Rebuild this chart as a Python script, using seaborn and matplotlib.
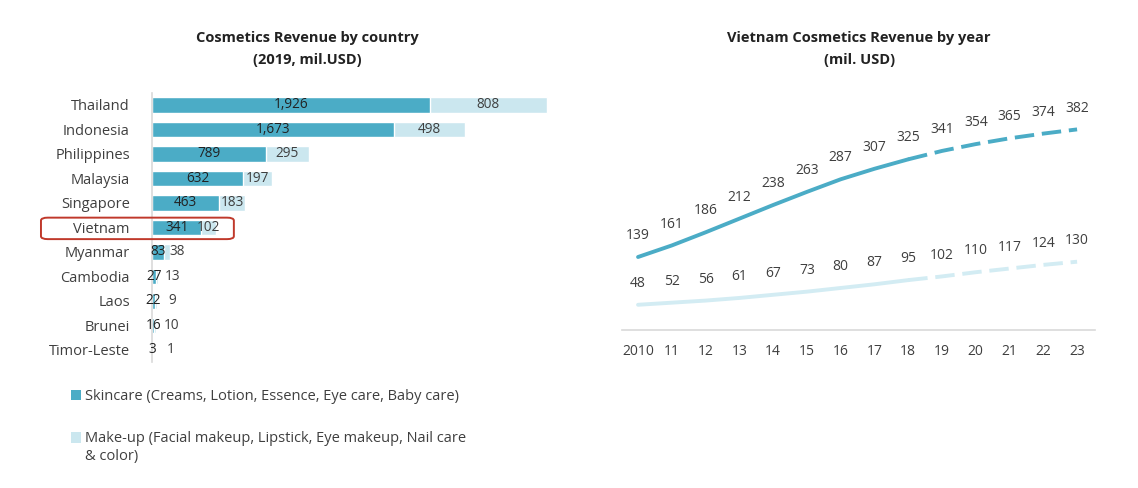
import numpy as np
import pandas as pd
import matplotlib
matplotlib.use("Agg")
import matplotlib.pyplot as plt
import seaborn as sns
from matplotlib.patches import FancyBboxPatch, Patch

sns.set_style("white")
plt.rcParams["font.family"] = ["Open Sans", "DejaVu Sans"]

# data
countries = ["Thailand", "Indonesia", "Philippines", "Malaysia", "Singapore", "Vietnam",
             "Myanmar", "Cambodia", "Laos", "Brunei", "Timor-Leste"]
skincare = [1926, 1673, 789, 632, 463, 341, 83, 27, 22, 16, 3]
makeup = [808, 498, 295, 197, 183, 102, 38, 13, 9, 10, 1]

years = ["2010", "11", "12", "13", "14", "15", "16", "17", "18", "19", "20", "21", "22", "23"]
vn_skincare = [139, 161, 186, 212, 238, 263, 287, 307, 325, 341, 354, 365, 374, 382]
vn_makeup = [48, 52, 56, 61, 67, 73, 80, 87, 95, 102, 110, 117, 124, 130]
last_actual = "18"

DARK = "#4BACC6"
LIGHT = "#CBE7EF"
LIGHT_LINE = "#D3ECF3"
TXT = "#3F3F3F"

df = pd.DataFrame({"country": countries, "skincare": skincare, "makeup": makeup})
df["total"] = df["skincare"] + df["makeup"]

fig = plt.figure(figsize=(11.38, 4.88), dpi=100)

# ---- left: stacked bars
ax1 = fig.add_axes([0.1336, 0.2577, 0.3585, 0.5523])
sns.barplot(data=df, y="country", x="total", color=LIGHT, width=0.62,
            saturation=1, orient="h", ax=ax1)
sns.barplot(data=df, y="country", x="skincare", color=DARK, width=0.62,
            saturation=1, orient="h", ax=ax1)
ax1.set_xlim(0, 2826)
ax1.set_ylim(10.5, -0.5)
ax1.set_xlabel("")
ax1.set_ylabel("")
ax1.set_xticks([])
for s in ["top", "right", "bottom"]:
    ax1.spines[s].set_visible(False)
ax1.spines["left"].set_color("#D9D9D9")
ax1.spines["left"].set_linewidth(1.2)
ax1.tick_params(axis="y", length=0, pad=16, labelsize=10.5, labelcolor=TXT)

for i, (sk, mk) in enumerate(zip(skincare, makeup)):
    ax1.text(sk / 2, i, f"{sk:,}", ha="center", va="center", fontsize=9.8, color="#222222")
    mx = max(sk + mk / 2, sk / 2 + 130)
    ax1.text(mx, i, f"{mk:,}", ha="center", va="center", fontsize=9.8, color=TXT)

fig.text(0.270, 0.922, "Cosmetics Revenue by country", ha="center", va="center",
         fontsize=10.5, fontweight="bold", color="#222222")
fig.text(0.270, 0.878, "(2019, mil.USD)", ha="center", va="center",
         fontsize=10.5, fontweight="bold", color="#222222")

# highlight Vietnam
fig.patches.append(FancyBboxPatch((0.0360, 0.5100), 0.1695, 0.0440,
                                  boxstyle="round,pad=0,rounding_size=0.006",
                                  transform=fig.transFigure, fill=False,
                                  edgecolor="#C0392B", linewidth=1.4))

handles = [Patch(facecolor=DARK, edgecolor="none",
                 label="Skincare (Creams, Lotion, Essence, Eye care, Baby care)"),
           Patch(facecolor=LIGHT, edgecolor="none",
                 label="Make-up (Facial makeup, Lipstick, Eye makeup, Nail care\n& color)")]
leg = fig.legend(handles=handles, loc="upper left", bbox_to_anchor=(0.057, 0.214),
                 frameon=False, fontsize=10.5, handlelength=0.7, handleheight=0.7,
                 handletextpad=0.3, labelspacing=1.85, borderaxespad=0)
for t in leg.get_texts():
    t.set_color(TXT)
# put the second square level with the first line of its label
h2 = leg.legend_handles[1]
h2.set_y(h2.get_y() + 7.5)

# ---- right: lines
ax2 = fig.add_axes([0.5466, 0.3238, 0.4156, 0.4713])
cut = years.index(last_actual)
x = np.arange(len(years))
lines = pd.DataFrame({"x": x, "skin": vn_skincare, "make": vn_makeup})
sol = lines.iloc[:cut + 1]
das = lines.iloc[cut:]
dash = (0, (5, 2))
sns.lineplot(data=sol, x="x", y="skin", color=DARK, linewidth=2.8, ax=ax2)
sns.lineplot(data=das, x="x", y="skin", color=DARK, linewidth=2.8, ax=ax2, linestyle=dash)
sns.lineplot(data=sol, x="x", y="make", color=LIGHT_LINE, linewidth=2.8, ax=ax2)
sns.lineplot(data=das, x="x", y="make", color=LIGHT_LINE, linewidth=2.8, ax=ax2, linestyle=dash)
for i in x:
    ax2.annotate(f"{vn_skincare[i]}", (i, vn_skincare[i]), xytext=(0, 10),
                 textcoords="offset points", ha="center", va="bottom",
                 fontsize=10, color=TXT)
    ax2.annotate(f"{vn_makeup[i]}", (i, vn_makeup[i]), xytext=(0, 10),
                 textcoords="offset points", ha="center", va="bottom",
                 fontsize=10, color=TXT)
ax2.set_xlim(-0.474, 13.53)
ax2.set_ylim(0, 438)
ax2.set_xticks(x)
ax2.set_xticklabels(years)
ax2.set_yticks([])
ax2.set_xlabel("")
ax2.set_ylabel("")
for s in ["top", "right", "left"]:
    ax2.spines[s].set_visible(False)
ax2.spines["bottom"].set_color("#D9D9D9")
ax2.spines["bottom"].set_linewidth(1.2)
ax2.tick_params(axis="x", length=0, pad=10, labelsize=10, labelcolor=TXT)

fig.text(0.755, 0.922, "Vietnam Cosmetics Revenue by year", ha="center", va="center",
         fontsize=10.5, fontweight="bold", color="#222222")
fig.text(0.755, 0.878, "(mil. USD)", ha="center", va="center",
         fontsize=10.5, fontweight="bold", color="#222222")

fig.savefig("out.png", dpi=100, facecolor="white")
